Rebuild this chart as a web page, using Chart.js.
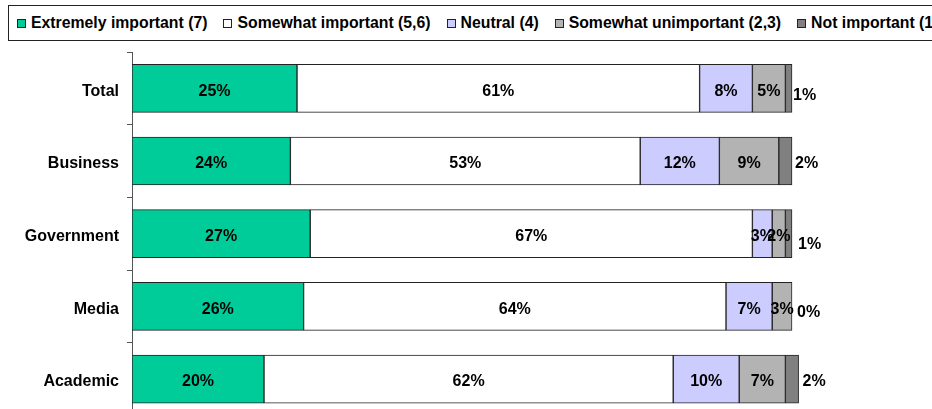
<!DOCTYPE html>
<html>
<head>
<meta charset="utf-8" />
<script src="https://cdn.jsdelivr.net/npm/chart.js@4/dist/chart.umd.min.js"></script>
<style>
  html, body { margin: 0; padding: 0; background: #fff; overflow: hidden; width: 932px; height: 409px; }
  #wrap { position: absolute; left: 0; top: 0; width: 932px; height: 433px; }
  .legend-box {
    position: absolute; left: 8px; top: 5px; height: 36px; width: 1000px;
    border: 1px solid #222; box-sizing: border-box; background: #fff;
    display: flex; align-items: center; padding-left: 8px; white-space: nowrap;
    font: bold 15.8px "Liberation Sans", Arial, sans-serif; color: #000;
  }
  .legend-item { display: flex; align-items: center; margin-right: 16px; }
  .legend-item .swatch { width: 9px; height: 9px; border: 1px solid #222; margin-right: 5px; box-sizing: border-box; }
</style>
</head>
<body>
<div id="wrap">
  <canvas id="chart" width="932" height="433"></canvas>
  <div class="legend-box" id="legend"></div>
</div>
<script>
const categories = ['Total', 'Business', 'Government', 'Media', 'Academic'];
const seriesNames = [
  'Extremely important (7)',
  'Somewhat important (5,6)',
  'Neutral (4)',
  'Somewhat unimportant (2,3)',
  'Not important (1)'
];
const extremely = [25, 24, 27, 26, 20];
const somewhat = [61, 53, 67, 64, 62];
const neutral = [8, 12, 3, 7, 10];
const unimportant = [5, 9, 2, 3, 7];
const notImportant = [1, 2, 1, 0, 2];

const colors = ['#00CC99', '#FFFFFF', '#CCCCFF', '#B3B3B3', '#808080'];
// small offsets for the labels sitting right of each bar
const tailNudge = [[1, 7], [3, 3], [6, 11], [5, 6], [4, 3]];

const values = [extremely, somewhat, neutral, unimportant, notImportant];
const FONT = '"Liberation Sans", Arial, sans-serif';

document.getElementById('legend').innerHTML = seriesNames
  .map((name, i) => `<span class="legend-item"><span class="swatch" style="background:${colors[i]}"></span>${name}</span>`)
  .join('');

const segmentLabels = {
  id: 'segmentLabels',
  afterDatasetsDraw(chart) {
    const { ctx } = chart;
    ctx.save();
    ctx.font = `bold 16px ${FONT}`;
    ctx.fillStyle = '#000';
    ctx.textBaseline = 'middle';
    const last = values.length - 1;
    values.forEach((series, d) => {
      const meta = chart.getDatasetMeta(d);
      meta.data.forEach((bar, j) => {
        const text = `${series[j]}%`;
        if (d === last) {
          ctx.textAlign = 'left';
          ctx.fillText(text, bar.x + tailNudge[j][0], bar.y + tailNudge[j][1]);
        } else {
          ctx.textAlign = 'center';
          ctx.fillText(text, (bar.x + bar.base) / 2, bar.y + 3);
        }
      });
    });
    ctx.restore();
  }
};

new Chart(document.getElementById('chart'), {
  type: 'bar',
  data: {
    labels: categories,
    datasets: values.map((data, i) => ({
      label: seriesNames[i],
      data,
      backgroundColor: colors[i],
      borderColor: '#222',
      borderWidth: 1,
      borderSkipped: false,
      barThickness: 48
    }))
  },
  options: {
    indexAxis: 'y',
    responsive: false,
    animation: false,
    layout: { padding: { top: 52, bottom: 7, left: 0, right: 8 } },
    plugins: { legend: { display: false }, tooltip: { enabled: false } },
    scales: {
      x: { stacked: true, min: 0, max: 120, display: false },
      y: {
        stacked: true,
        afterFit: (scale) => { scale.width = 132; },
        border: { display: true, color: '#555', width: 1 },
        grid: { display: true, drawOnChartArea: false, drawTicks: true, tickLength: 5, offset: true, color: '#555' },
        ticks: { color: '#000', padding: 8, labelOffset: 3, font: { family: FONT, size: 16, weight: 'bold' } }
      }
    }
  },
  plugins: [segmentLabels]
});
</script>
</body>
</html>
